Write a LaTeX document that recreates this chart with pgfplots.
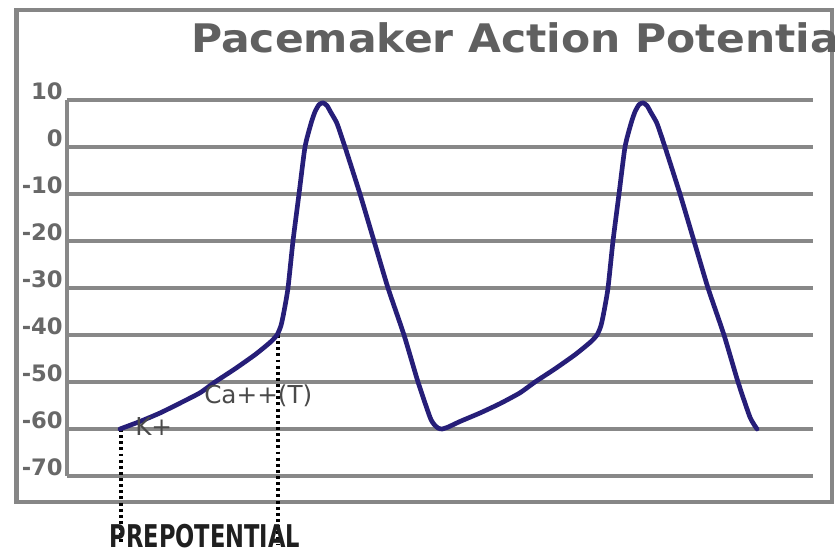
\documentclass[border=0pt]{standalone}
\usepackage{fontspec}
\setmainfont{DejaVu Sans}
\usepackage{graphicx}
\usepackage{pgfplots}
\pgfplotsset{compat=1.18}
\definecolor{gridgray}{HTML}{888888}
\definecolor{framegray}{HTML}{868686}
\definecolor{tickgray}{HTML}{686868}
\definecolor{titlegray}{HTML}{606060}
\definecolor{labgray}{HTML}{4A4A4A}
\definecolor{navy}{RGB}{38,30,120}
\begin{document}
\begin{tikzpicture}[x=0.75pt,y=0.75pt]
\useasboundingbox (0,0) rectangle (835,550);
\clip (0,0) rectangle (835,550);
\fill[white] (0,0) rectangle (835,550);
\draw[framegray, line width=3.6pt] (16.5,48) rectangle (832,540);
\node[anchor=base west, inner sep=0pt, text=titlegray, font=\bfseries\fontsize{29.5}{30}\selectfont] at (191,497) {\scalebox{1.08}[1]{Pacemaker Action Potential}};
\begin{axis}[
  at={(50.25pt,337.5pt)}, anchor=north west,
  scale only axis, width=559.5pt, height=282pt,
  xmin=67, xmax=813, ymin=-70, ymax=10,
  clip=false,
  axis x line=none, axis y line*=left,
  axis line style={gridgray, line width=3pt, -},
  xtick=\empty,
  ytick={-70,-60,-50,-40,-30,-20,-10,0,10},
  yticklabels={-70,-60,-50,-40,-30,-20,-10,0,10},
  major tick length=0pt,
  ymajorgrids,
  major grid style={gridgray, line width=3pt},
  yticklabel style={anchor=south east, inner sep=0pt, xshift=-3pt, text=tickgray, font=\bfseries\fontsize{17}{17}\selectfont},
]
\addplot[black, line width=2.4pt, dash pattern=on 2.2pt off 2.4pt] coordinates {(121,-60) (121,-84.5)};
\addplot[black, line width=2.4pt, dash pattern=on 2.2pt off 2.4pt] coordinates {(278,-40) (278,-84.5)};
\addplot[navy, line width=3.5pt, line join=round, line cap=round, smooth, tension=0.35] coordinates {
(120,-60) (140,-58.4) (160,-56.6) (180,-54.5) (200,-52.3) (215,-50) (235,-47.2) (255,-44.2) (270,-41.6) (277,-40)
(281,-38) (284,-35) (288,-30) (293,-20) (299,-10) (305,0) (311,5) (315,7.5) (319,9) (323,9.4) (327,8.8) (331,7.3)
(337,5) (345,0) (360,-10) (374,-20) (388,-30) (404,-40) (418,-50) (430,-57.5) (434,-59) (438,-59.8) (442,-60) (448,-59.6)
(460,-58.4) (480,-56.6) (500,-54.6) (520,-52.3) (535,-50) (555,-47.2) (575,-44.2) (590,-41.6) (597,-40)
(601,-38) (604,-35) (608,-30) (613,-20) (619,-10) (625,0) (631,5) (635,7.5) (639,9) (643,9.4) (647,8.8) (651,7.3)
(657,5) (665,0) (680,-10) (694,-20) (708,-30) (724,-40) (738,-50) (750,-57.5) (757,-60)
};
\node[anchor=base west, inner sep=0pt, text=labgray, font=\fontsize{18.5}{18.5}\selectfont] at (axis cs:135,-61.4) {K+};
\node[anchor=base west, inner sep=0pt, text=labgray, font=\fontsize{18.5}{18.5}\selectfont] at (axis cs:204,-54.6) {Ca++(T)};
\node[anchor=base, inner sep=0pt, text=black!88, font=\bfseries\fontsize{23.5}{23.5}\selectfont] at (axis cs:205,-85.2) {\scalebox{0.72}[1]{PREPOTENTIAL}};
\end{axis}
\end{tikzpicture}
\end{document}
